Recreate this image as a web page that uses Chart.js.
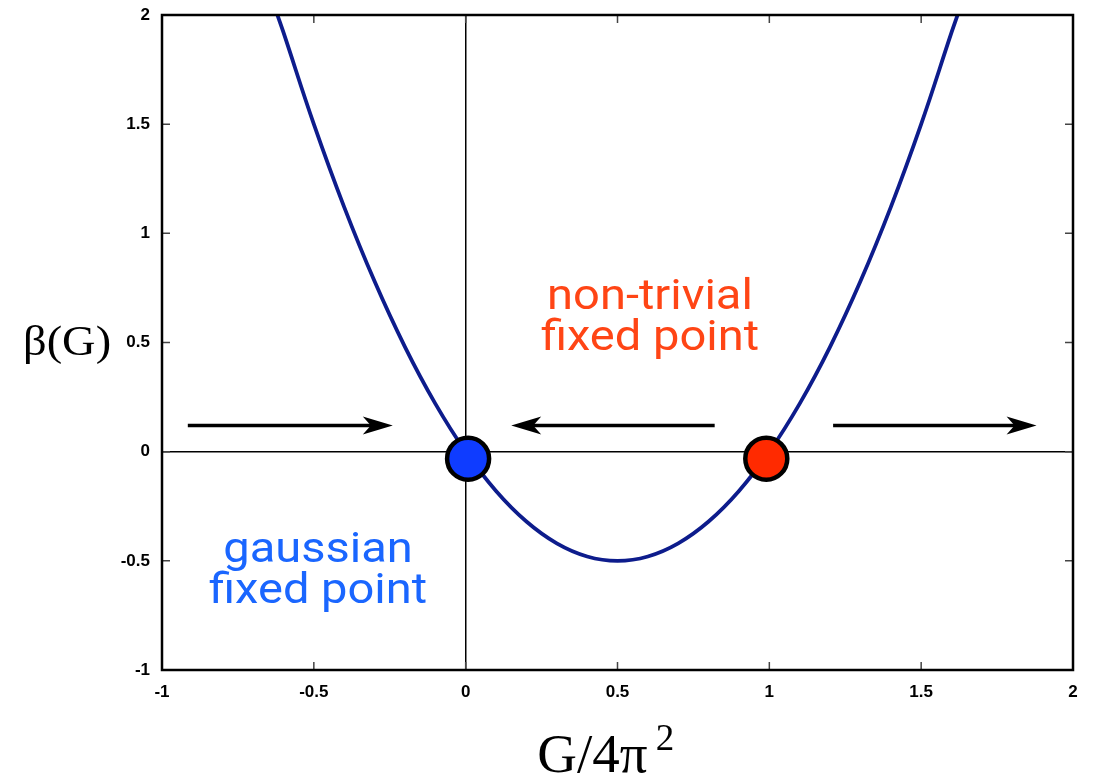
<!DOCTYPE html>
<html>
<head>
<meta charset="utf-8">
<script src="https://cdn.jsdelivr.net/npm/chart.js@4"></script>
<style>
  html, body { margin: 0; padding: 0; background: #fff; }
  #wrap { width: 1097px; height: 780px; }
</style>
</head>
<body>
<div id="wrap"><canvas id="betaChart" width="1097" height="780"></canvas></div>
<script>
// beta function curve
const curveX = [-0.62, -0.6, -0.5, -0.4, -0.3, -0.2, -0.1, 0, 0.1, 0.2, 0.3, 0.4, 0.5,
                0.6, 0.7, 0.8, 0.9, 1.0, 1.1, 1.2, 1.3, 1.4, 1.5, 1.6, 1.62];
const curveY = [2.0, 1.92, 1.5, 1.12, 0.78, 0.48, 0.22, 0, -0.18, -0.32, -0.42, -0.48, -0.5,
                -0.48, -0.42, -0.32, -0.18, 0, 0.22, 0.48, 0.78, 1.12, 1.5, 1.92, 2.0];

// fixed points
const fixedX = [0.008, 0.99];
const fixedY = [-0.032, -0.032];
const fixedColors = ['#0f3cff', '#ff2a00'];

// flow arrows (from -> to, at height arrowY)
const arrowFrom = [-0.915, 0.82, 1.21];
const arrowTo = [-0.24, 0.15, 1.88];
const arrowY = 0.12;

// tick values
const xTicks = [-1, -0.5, 0, 0.5, 1, 1.5, 2];
const yTicks = [-1, -0.5, 0, 0.5, 1, 1.5, 2];

// text labels
const notes = [
  { lines: ['non-trivial', 'fixed point'], x: 0.607, y: 0.71, color: '#ff4515' },
  { lines: ['gaussian', 'fixed point'], x: -0.486, y: -0.45, color: '#1a66ff' }
];

const ctx = document.getElementById('betaChart').getContext('2d');

const extras = {
  id: 'extras',
  beforeDatasetsDraw(chart) {
    const c = chart.ctx;
    const a = chart.chartArea;
    const xs = chart.scales.x, ys = chart.scales.y;
    c.save();
    // inward tick marks on all four sides
    c.strokeStyle = '#444';
    c.lineWidth = 1.5;
    c.beginPath();
    xTicks.forEach(v => {
      const px = xs.getPixelForValue(v);
      c.moveTo(px, a.bottom); c.lineTo(px, a.bottom - 8);
      c.moveTo(px, a.top); c.lineTo(px, a.top + 8);
    });
    yTicks.forEach(v => {
      const py = ys.getPixelForValue(v);
      c.moveTo(a.left, py); c.lineTo(a.left + 8, py);
      c.moveTo(a.right, py); c.lineTo(a.right - 8, py);
    });
    c.stroke();
    c.restore();
  },
  afterDatasetsDraw(chart) {
    const c = chart.ctx;
    const a = chart.chartArea;
    const xs = chart.scales.x, ys = chart.scales.y;
    c.save();
    // frame
    c.strokeStyle = '#000';
    c.lineWidth = 2.5;
    c.strokeRect(a.left, a.top, a.right - a.left, a.bottom - a.top);

    // arrows
    const py = ys.getPixelForValue(arrowY);
    c.fillStyle = '#000';
    c.lineWidth = 3.5;
    for (let i = 0; i < arrowFrom.length; i++) {
      const x0 = xs.getPixelForValue(arrowFrom[i]);
      const x1 = xs.getPixelForValue(arrowTo[i]);
      const dir = x1 > x0 ? 1 : -1;
      c.beginPath();
      c.moveTo(x0, py);
      c.lineTo(x1 - dir * 20, py);
      c.stroke();
      c.beginPath();
      c.moveTo(x1, py);
      c.lineTo(x1 - dir * 30, py - 9);
      c.lineTo(x1 - dir * 22, py);
      c.lineTo(x1 - dir * 30, py + 9);
      c.closePath();
      c.fill();
    }

    // annotation text
    c.textAlign = 'center';
    c.textBaseline = 'alphabetic';
    c.font = '42px Roboto';
    notes.forEach(n => {
      const cx = xs.getPixelForValue(n.x);
      const cy = ys.getPixelForValue(n.y);
      c.fillStyle = n.color;
      n.lines.forEach((t, k) => {
        c.save();
        c.translate(cx, cy + 12 + k * 41);
        c.scale(1.12, 1);
        c.fillText(t, 0, 0);
        c.restore();
      });
    });

    // axis titles
    c.fillStyle = '#000';
    c.textAlign = 'left';
    c.save();
    c.translate(23, 355);
    c.scale(1.08, 1);
    c.font = '43px "Liberation Serif"';
    c.fillText('β(G)', 0, 0);
    c.restore();

    const mid = (a.left + a.right) / 2;
    c.font = '55px "Liberation Serif"';
    const main = 'G/4π';
    const w = c.measureText(main).width;
    const start = mid - 12 - (w + 26) / 2;
    c.fillText(main, start, 772);
    c.font = '37px "Liberation Serif"';
    c.fillText('2', start + w + 8, 750);
    c.restore();
  }
};

const myChart = new Chart(ctx, {
  type: 'scatter',
  data: {
    datasets: [
      {
        label: 'fixed points',
        data: fixedX.map((x, i) => ({ x: x, y: fixedY[i] })),
        pointRadius: 21,
        pointHoverRadius: 21,
        pointBackgroundColor: fixedColors,
        pointBorderColor: '#000',
        pointBorderWidth: 4.5,
        showLine: false
      },
      {
        label: 'beta',
        data: curveX.map((x, i) => ({ x: x, y: curveY[i] })),
        showLine: true,
        borderColor: '#0d1c8c',
        borderWidth: 3.8,
        pointRadius: 0,
        tension: 0.4,
        fill: false
      }
    ]
  },
  options: {
    responsive: false,
    animation: false,
    events: [],
    layout: { autoPadding: false, padding: { top: 15, right: 24, left: 0, bottom: 0 } },
    plugins: { legend: { display: false }, tooltip: { enabled: false } },
    scales: {
      x: {
        type: 'linear',
        min: -1,
        max: 2,
        afterFit(scale) { scale.height = 110; scale.paddingLeft = 0; scale.paddingRight = 0; },
        afterBuildTicks(scale) { scale.ticks = xTicks.map(v => ({ value: v })); },
        border: { display: false },
        grid: {
          drawTicks: false,
          color: c => (c.tick && c.tick.value === 0 ? '#000' : 'rgba(0,0,0,0)'),
          lineWidth: 1.5
        },
        ticks: {
          padding: 12,
          color: '#000',
          maxRotation: 0,
          autoSkip: false,
          font: { family: '"Liberation Sans"', size: 17, weight: 'bold' },
          callback: v => String(v)
        }
      },
      y: {
        type: 'linear',
        min: -1,
        max: 2,
        afterFit(scale) { scale.width = 162; scale.paddingTop = 0; scale.paddingBottom = 0; },
        afterBuildTicks(scale) { scale.ticks = yTicks.map(v => ({ value: v })); },
        border: { display: false },
        grid: {
          drawTicks: false,
          color: c => (c.tick && c.tick.value === 0 ? '#000' : 'rgba(0,0,0,0)'),
          lineWidth: 1.5
        },
        ticks: {
          padding: 12,
          color: '#000',
          autoSkip: false,
          font: { family: '"Liberation Sans"', size: 17, weight: 'bold' },
          callback: v => String(v)
        }
      }
    }
  },
  plugins: [extras]
});
</script>
</body>
</html>
